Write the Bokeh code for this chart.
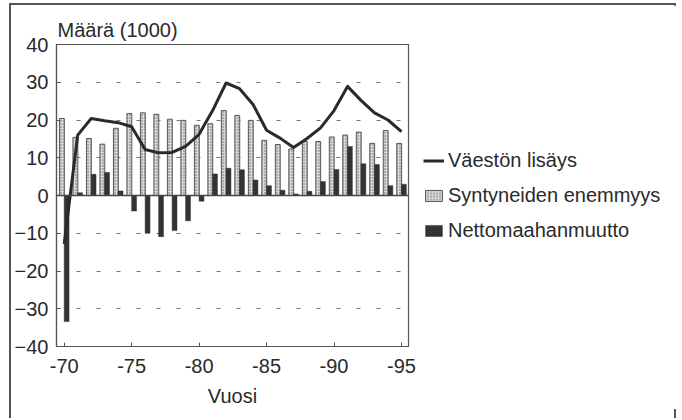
from bokeh.plotting import figure
from bokeh.models import (Range1d, FixedTicker, Legend, LegendItem, Span,
                          ColumnDataSource)
from bokeh.transform import dodge
from bokeh.embed import file_html
from bokeh.resources import INLINE

# ---------------- data ----------------
years = list(range(70, 96))
natural_increase = [20.4, 15.4, 15.1, 13.6, 17.8, 21.7, 21.9, 21.5, 20.2, 19.9,
                    18.6, 19.0, 22.5, 21.2, 19.9, 14.6, 13.5, 12.3, 14.3, 14.3,
                    15.5, 16.0, 16.8, 13.8, 17.2, 13.8]
net_migration = [-33.4, 0.7, 5.6, 6.1, 1.2, -4.1, -10.0, -10.9, -9.3, -6.7,
                 -1.5, 5.7, 7.2, 6.8, 4.1, 2.6, 1.4, 0.4, 1.1, 3.7,
                 6.9, 13.0, 8.4, 8.2, 2.6, 3.0]
pop_increase = [-12.8, 16.0, 20.4, 19.8, 19.3, 18.2, 12.2, 11.3, 11.4, 13.0,
                16.2, 22.5, 29.8, 28.3, 24.1, 17.3, 15.2, 12.7, 15.1, 17.9,
                22.5, 28.9, 25.2, 21.9, 20.0, 16.9]
x_ticks = [70, 75, 80, 85, 90, 95]
x_tick_labels = ["-70", "-75", "-80", "-85", "-90", "-95"]
y_ticks = [-40, -30, -20, -10, 0, 10, 20, 30, 40]
grid_ticks = [-30, -20, -10, 10, 20, 30]
series_names = ["Väestön lisäys", "Syntyneiden enemmyys", "Nettomaahanmuutto"]
title_text = "Määrä (1000)"
x_title = "Vuosi"

src = ColumnDataSource(dict(year=years, nat=natural_increase,
                            mig=net_migration, inc=pop_increase))

FONT = "Liberation Sans"
TXT = "#2a2a2a"

p = figure(width=663, height=413, output_backend="svg", toolbar_location=None,
           x_range=Range1d(69.43, 95.52), y_range=Range1d(-40, 40),
           min_border_left=41, min_border_right=10, min_border_top=39,
           min_border_bottom=10)
p.frame_width = 352
p.frame_height = 302
# thin frame round the whole picture, open at the bottom as in the reference
p.styles = {"position": "relative", "left": "9px", "margin-top": "3px",
            "border-left": "2px solid #555", "border-top": "2px solid #555",
            "border-right": "2px solid #555", "box-sizing": "content-box",
            "width": "663px", "height": "413px"}

p.title.text = title_text
p.title.text_font = FONT
p.title.text_font_size = "20px"
p.title.text_font_style = "normal"
p.title.text_color = TXT
p.title.offset = 1
p.title.standoff = 7

p.outline_line_color = "#555"
p.outline_line_width = 1.2

# grid
p.xgrid.visible = False
p.ygrid.ticker = FixedTicker(ticks=grid_ticks)
p.ygrid.grid_line_color = "#777"
p.ygrid.grid_line_width = 1.2
p.ygrid.grid_line_dash = "4 16"
p.ygrid.grid_line_dash_offset = 0

# bars
w = 0.36
r_nat = p.vbar(x=dodge("year", -0.17, range=p.x_range), top="nat", bottom=0,
               width=w, source=src, fill_color="#d8d8d8", line_color="#555555",
               line_width=1, hatch_pattern="dot", hatch_color="#666",
               hatch_scale=3, hatch_weight=1.2)
r_mig = p.vbar(x=dodge("year", 0.18, range=p.x_range), top="mig", bottom=0,
               width=w, source=src, fill_color="#333333", line_color="#333333",
               line_width=0.5)

p.add_layout(Span(location=0, dimension="width", line_color="#444",
                  line_width=1.5))

r_line = p.line(x="year", y="inc", source=src, line_color="#2a2a2a",
                line_width=3, line_join="round")

# axes
xa = p.xaxis[0]
xa.ticker = FixedTicker(ticks=x_ticks)
xa.major_label_overrides = dict(zip(x_ticks, x_tick_labels))
xa.axis_label = x_title
ya = p.yaxis[0]
ya.ticker = FixedTicker(ticks=y_ticks)
for ax in (xa, ya):
    ax.axis_line_color = "#555"
    ax.axis_line_width = 1.2
    ax.major_tick_in = 4
    ax.major_tick_out = 0
    ax.major_tick_line_color = "#555"
    ax.minor_tick_line_color = None
    ax.major_label_text_font = FONT
    ax.major_label_text_font_size = "20px"
    ax.major_label_text_color = TXT
    ax.axis_label_text_font = FONT
    ax.axis_label_text_font_size = "20px"
    ax.axis_label_text_font_style = "normal"
    ax.axis_label_text_color = TXT
xa.major_label_standoff = 12
xa.axis_label_standoff = 9
ya.major_label_standoff = 8

legend = Legend(items=[
    LegendItem(label=series_names[0], renderers=[r_line]),
    LegendItem(label=series_names[1], renderers=[r_nat]),
    LegendItem(label=series_names[2], renderers=[r_mig]),
], location="center_left", orientation="vertical")
legend.label_text_font = FONT
legend.label_text_font_size = "20px"
legend.label_text_color = TXT
legend.glyph_width = 21
legend.glyph_height = 14
legend.label_standoff = 4
legend.label_height = 20
legend.spacing = 12
legend.padding = 0
legend.margin = 15
legend.border_line_color = None
legend.background_fill_alpha = 0
p.add_layout(legend, "right")

open("out.html", "w").write(file_html(p, INLINE))
